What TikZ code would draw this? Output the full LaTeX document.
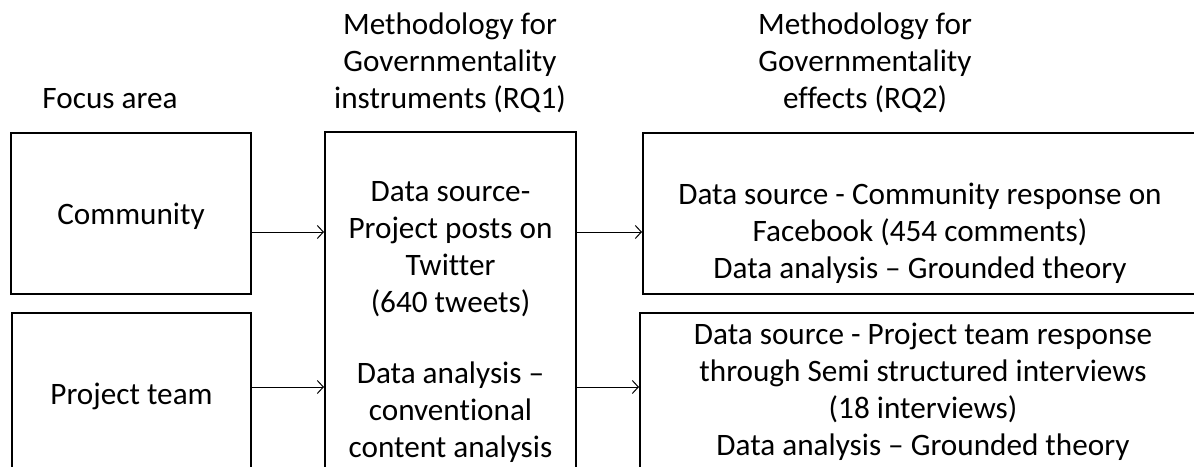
\documentclass[tikz,border=0pt]{standalone}
\usepackage{fontspec}
\setmainfont{Carlito}[Ligatures=NoCommon]
\usetikzlibrary{arrows.meta}
\begin{document}
\begin{tikzpicture}[x=1pt,y=-1pt,
  box/.style={draw=black, line width=2pt, inner sep=0pt},
  txt/.style={font=\fontsize{31.2}{37}\selectfont, align=center, inner sep=0pt, anchor=base},
  link/.style={line width=1pt, -{Straight Barb[length=6pt,width=13pt,line width=1pt]}}]
\useasboundingbox (0,0) rectangle (1194,466);
\clip (0,0) rectangle (1194,466);

% column headers
\node[txt] (hfocus) at (110,108) {Focus area};
\node[txt] (hrq1) at (450,108) {Methodology for\\Governmentality\\instruments (RQ1)};
\node[txt] (hrq2) at (865,108) {Methodology for\\Governmentality\\effects (RQ2)};

% boxes
\node[box, minimum width=240pt, minimum height=161pt] (comm) at (131,213) {};
\node[box, minimum width=239pt, minimum height=160pt] (team) at (131.5,393) {};
\node[box, minimum width=251pt, minimum height=388pt] (mid) at (450.5,326) {};
\node[box, minimum width=554pt, minimum height=161pt] (eff1) at (920,213) {};
\node[box, minimum width=566pt, minimum height=167pt] (eff2) at (923,396.5) {};

% box texts
\node[txt] (tcomm) at (131,224) {Community};
\node[txt] (tteam) at (131.5,404) {Project team};
\node[txt] (tmid) at (450.5,457) {Data source-\\Project posts on\\Twitter\\(640 tweets)\\[34pt]Data analysis --\\conventional\\content analysis};
\node[txt] (teff1) at (920,278) {Data source - Community response on\\Facebook (454 comments)\\Data analysis -- Grounded theory};
\node[txt] (teff2) at (923,455) {Data source - Project team response\\through Semi structured interviews\\(18 interviews)\\Data analysis -- Grounded theory};

% connectors
\coordinate (r1) at (0,232);
\coordinate (r2) at (0,387);
\draw[link] (comm.east |- r1) -- (mid.west |- r1);
\draw[link] (team.east |- r2) -- (mid.west |- r2);
\draw[link] (mid.east |- r1) -- (eff1.west |- r1);
\draw[link] (mid.east |- r2) -- (eff2.west |- r2);
\end{tikzpicture}
\end{document}
